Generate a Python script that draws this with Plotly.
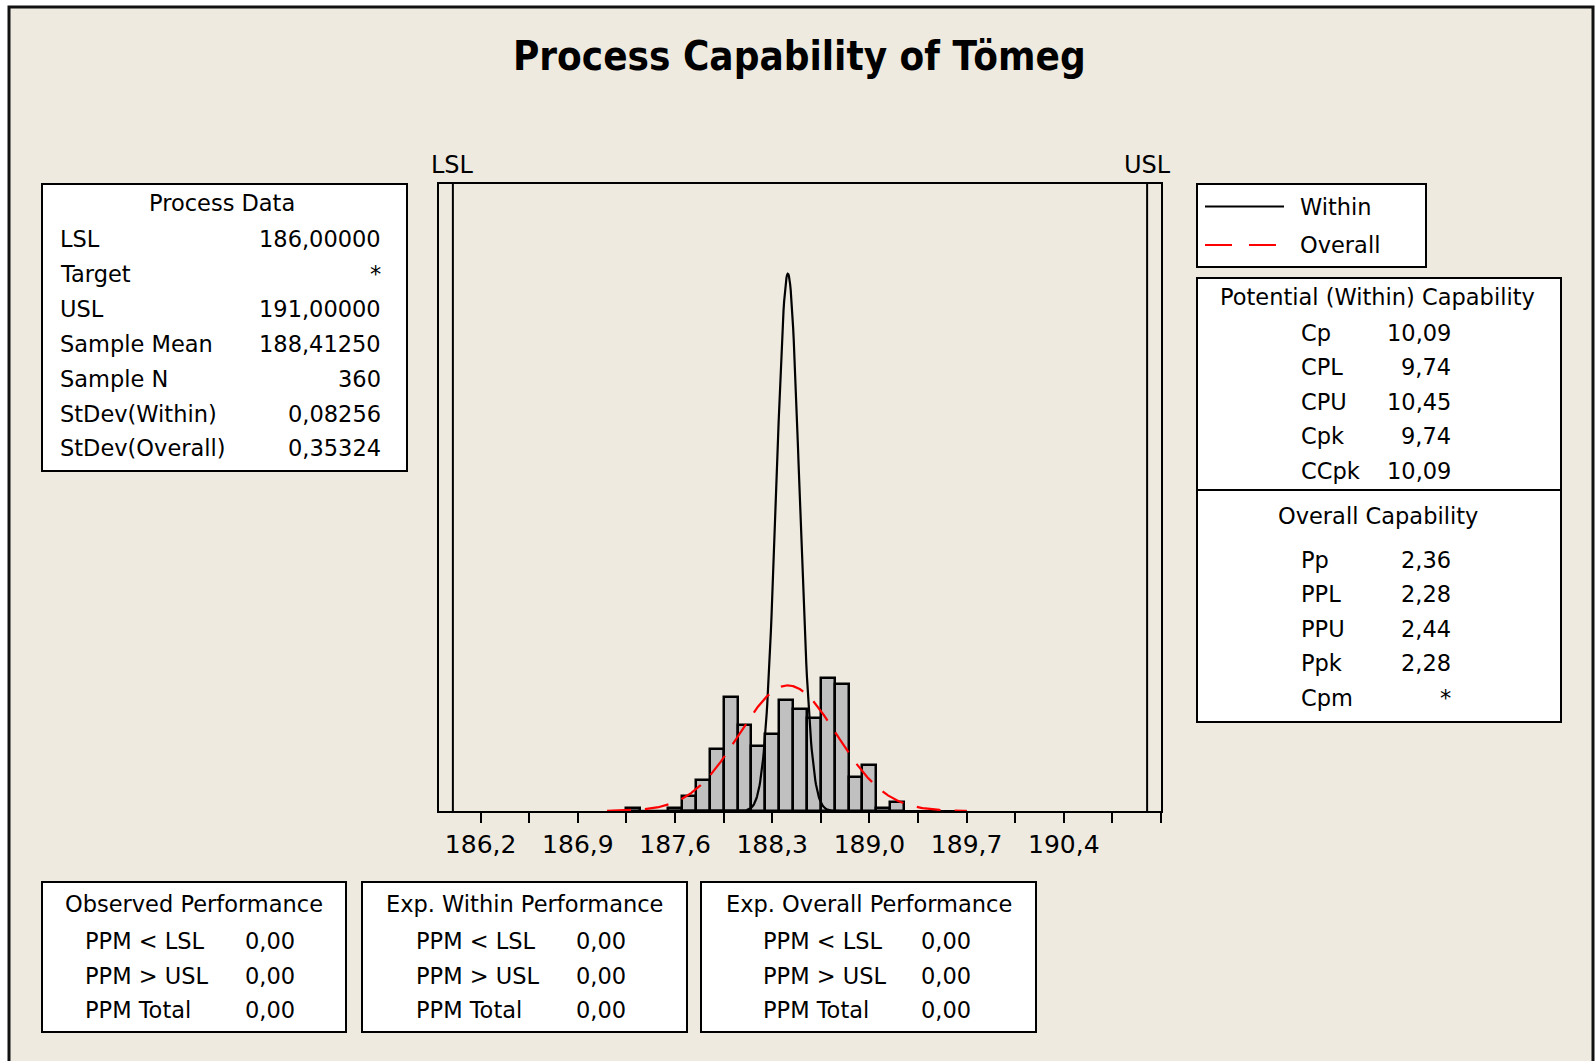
import numpy as np
import plotly.graph_objects as go

# ---------------- data ----------------
TITLE = "Process Capability of Tömeg"
LSL = 186.0
USL = 191.0
MEAN = 188.4125
N = 360
SD_WITHIN = 0.08256
SD_OVERALL = 0.35324
BIN_WIDTH = 0.1

BIN_CENTERS = [187.3, 187.6, 187.7, 187.8, 187.9, 188.0, 188.1, 188.2, 188.3,
               188.4, 188.5, 188.6, 188.7, 188.8, 188.9, 189.0, 189.1, 189.2]
COUNTS = [1, 1, 5, 10, 20, 37, 28, 21, 25, 36, 33, 30, 43, 41, 11, 15, 1, 3]

CURVE_RANGE = [187.11, 189.70]

TICK_VALUES = [186.2, 186.9, 187.6, 188.3, 189.0, 189.7, 190.4]
TICK_LABELS = ["186,2", "186,9", "187,6", "188,3", "189,0", "189,7", "190,4"]

PROCESS_LABELS = ["LSL", "Target", "USL", "Sample Mean", "Sample N",
                  "StDev(Within)", "StDev(Overall)"]
PROCESS_VALUES = ["186,00000", "*", "191,00000", "188,41250", "360",
                  "0,08256", "0,35324"]

WITHIN_CAP_LABELS = ["Cp", "CPL", "CPU", "Cpk", "CCpk"]
WITHIN_CAP_VALUES = ["10,09", "9,74", "10,45", "9,74", "10,09"]
OVERALL_CAP_LABELS = ["Pp", "PPL", "PPU", "Ppk", "Cpm"]
OVERALL_CAP_VALUES = ["2,36", "2,28", "2,44", "2,28", "*"]

PERF_TITLES = ["Observed Performance", "Exp. Within Performance",
               "Exp. Overall Performance"]
PERF_LABELS = ["PPM &lt; LSL", "PPM &gt; USL", "PPM Total"]
PERF_VALUES = [["0,00", "0,00", "0,00"],
               ["0,00", "0,00", "0,00"],
               ["0,00", "0,00", "0,00"]]

# ---------------- layout helpers ----------------
W, H = 1595, 1061
FONT = "DejaVu Sans"
BODY = 22.5
BG = "#EEEAE0"


def px(x):
    return x / W


def py(y):
    return 1 - y / H


shapes = []
annotations = []


def rect(x0, y0, x1, y1, fill="white", lw=2, color="black"):
    shapes.append(dict(type="rect", xref="paper", yref="paper",
                       x0=px(x0), x1=px(x1), y0=py(y0), y1=py(y1),
                       fillcolor=fill, line=dict(color=color, width=lw),
                       layer="below"))


def hline(x0, x1, y, color="black", lw=2, dash=None):
    ln = dict(color=color, width=lw)
    if dash:
        ln["dash"] = dash
    shapes.append(dict(type="line", xref="paper", yref="paper",
                       x0=px(x0), x1=px(x1), y0=py(y), y1=py(y), line=ln))


def txt(x, y, s, anchor="left", size=BODY, bold=False, family=FONT):
    annotations.append(dict(xref="paper", yref="paper", x=px(x), y=py(y),
                            text=f"<b>{s}</b>" if bold else s,
                            xanchor=anchor, yanchor="middle", showarrow=False,
                            font=dict(family=family, size=size, color="black")))


# outer frame
rect(9, 7, 1593, 1075, fill=BG, lw=3, color="#111111")

# title
txt(800, 56, TITLE, anchor="center", size=40, bold=True,
    family="DejaVu Sans Condensed, DejaVu Sans")

# ---------------- histogram + curves ----------------
x_curve = np.linspace(CURVE_RANGE[0], CURVE_RANGE[1], 600)


def normal_counts(x, sd):
    return N * BIN_WIDTH * np.exp(-0.5 * ((x - MEAN) / sd) ** 2) / (sd * np.sqrt(2 * np.pi))


fig = go.Figure()
fig.add_trace(go.Bar(x=BIN_CENTERS, y=COUNTS, width=BIN_WIDTH,
                     marker=dict(color="#C0C0C0", line=dict(color="black", width=2.5)),
                     showlegend=False))
fig.add_trace(go.Scatter(x=x_curve, y=normal_counts(x_curve, SD_WITHIN), mode="lines",
                         line=dict(color="black", width=2.2), showlegend=False))
fig.add_trace(go.Scatter(x=x_curve, y=normal_counts(x_curve, SD_OVERALL), mode="lines",
                         line=dict(color="#FF0000", width=2.2, dash="24px,14px"),
                         showlegend=False))

PLOT_L, PLOT_R, PLOT_T, PLOT_B = 439, 1161, 184, 811

# spec limit lines + labels
for val, lab in [(LSL, "LSL"), (USL, "USL")]:
    shapes.append(dict(type="line", xref="x", yref="paper", x0=val, x1=val,
                       y0=py(PLOT_B), y1=py(PLOT_T), line=dict(color="black", width=2)))
    annotations.append(dict(xref="x", yref="paper", x=val, y=py(165), text=lab,
                            xanchor="center", yanchor="middle", showarrow=False,
                            font=dict(family=FONT, size=24, color="black")))

# ---------------- Process Data box ----------------
rect(42, 184, 407, 471)
txt(222, 203, "Process Data", anchor="center")
for i, (lab, val) in enumerate(zip(PROCESS_LABELS, PROCESS_VALUES)):
    y = 239 + i * 34.9
    txt(58, y, lab)
    txt(383, y, val, anchor="right")

# ---------------- legend box ----------------
rect(1197, 184, 1426, 267)
hline(1205, 1284, 206.5, color="black", lw=2)
txt(1298, 206.5, "Within")
hline(1205, 1284, 245, color="#FF0000", lw=2, dash="27px,17px")
txt(1298, 245, "Overall")

# ---------------- capability box ----------------
rect(1197, 278, 1561, 722)
hline(1197, 1561, 490, lw=2)
txt(1377, 297, "Potential (Within) Capability", anchor="center")
for i, (lab, val) in enumerate(zip(WITHIN_CAP_LABELS, WITHIN_CAP_VALUES)):
    y = 332.6 + i * 34.6
    txt(1299, y, lab)
    txt(1453, y, val, anchor="right")
txt(1378, 516, "Overall Capability", anchor="center")
for i, (lab, val) in enumerate(zip(OVERALL_CAP_LABELS, OVERALL_CAP_VALUES)):
    y = 559.5 + i * 34.6
    txt(1299, y, lab)
    txt(1453, y, val, anchor="right")

# ---------------- performance boxes ----------------
perf_boxes = [(42, 346, 83, 297), (362, 687, 414, 628), (701, 1036, 761, 973)]
for (x0, x1, lx, vx), title, vals in zip(perf_boxes, PERF_TITLES, PERF_VALUES):
    rect(x0, 882, x1, 1032)
    txt((x0 + x1) / 2, 904, title, anchor="center")
    for i, (lab, val) in enumerate(zip(PERF_LABELS, vals)):
        y = 941 + i * 34.5
        txt(lx, y, lab)
        txt(vx, y, val, anchor="right")

fig.update_layout(
    width=W, height=H,
    margin=dict(l=0, r=0, t=0, b=0),
    paper_bgcolor="white",
    plot_bgcolor="white",
    shapes=shapes,
    annotations=annotations,
    showlegend=False,
    bargap=0,
    xaxis=dict(domain=[px(PLOT_L), px(PLOT_R)], range=[185.9, 191.1],
               showline=True, mirror=True, linecolor="black", linewidth=2,
               showgrid=False, zeroline=False,
               tickmode="array", tickvals=TICK_VALUES, ticktext=TICK_LABELS,
               ticks="outside", ticklen=10, tickwidth=2, tickcolor="black",
               tickfont=dict(family=FONT, size=25, color="black"),
               minor=dict(ticks="outside", ticklen=10, tickwidth=2, tickcolor="black",
                          tick0=186.2, dtick=0.35, showgrid=False),
               fixedrange=True),
    yaxis=dict(domain=[py(PLOT_B), py(PLOT_T)], range=[0, 203],
               showline=True, mirror=True, linecolor="black", linewidth=2,
               showgrid=False, zeroline=False, showticklabels=False, ticks="",
               fixedrange=True),
)

fig.write_html("out.html")
